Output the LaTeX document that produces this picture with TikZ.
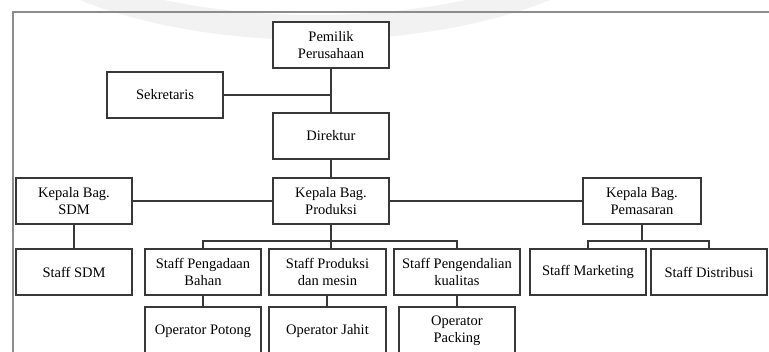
\documentclass[tikz,border=0pt]{standalone}
\usepackage{fontspec}
\setmainfont{Liberation Serif}
\begin{document}
\begin{tikzpicture}[x=1pt,y=-1pt,
  orgbox/.style={draw=black!78, line width=1.1pt, fill=white, minimum width=116pt, minimum height=46pt,
    inner sep=1pt, align=center, font=\fontsize{14.5}{17.5}\selectfont, text=black},
  link/.style={draw=black!78, line width=1.1pt}]
\useasboundingbox (0,0) rectangle (769,352);
\begin{scope}
\clip (0,0) rectangle (769,352);
% faint watermark ring
\fill[black!5, even odd rule] (315,-110) ellipse [x radius=346, y radius=150]
  (315,-135) ellipse [x radius=346, y radius=150];
% frame
\draw[black!45, line width=1.4pt] (13,360) -- (13,12) -- (775,12);
% nodes
\node[orgbox] (pemilik) at (331,45) {Pemilik\\Perusahaan};
\node[orgbox] (sekre) at (165,95) {Sekretaris};
\node[orgbox] (direktur) at (331,136) {Direktur};
\node[orgbox] (sdm) at (74,201) {Kepala Bag.\\SDM};
\node[orgbox] (prod) at (331,201) {Kepala Bag.\\Produksi};
\node[orgbox, minimum width=118pt] (pemasaran) at (642,201) {Kepala Bag.\\Pemasaran};
\node[orgbox] (staffsdm) at (74,272) {Staff SDM};
\node[orgbox] (pengadaan) at (203,272) {Staff Pengadaan\\Bahan};
\node[orgbox, minimum width=117pt] (prodmesin) at (327.5,272) {Staff Produksi\\dan mesin};
\node[orgbox, minimum width=126pt] (pengendalian) at (457,272) {Staff Pengendalian\\kualitas};
\node[orgbox] (marketing) at (588,272) {Staff Marketing};
\node[orgbox] (distribusi) at (709,272) {Staff Distribusi};
\node[orgbox, minimum height=48pt] (potong) at (203,331) {Operator Potong};
\node[orgbox, minimum width=117pt, minimum height=48pt] (jahit) at (327.5,331) {Operator Jahit};
\node[orgbox, minimum height=48pt] (packing) at (457,331) {Operator\\Packing};
% connectors
\coordinate (sekj) at (331,95);
\coordinate (pbus) at (331,241);
\coordinate (mbus) at (642,241);
\coordinate (pmj) at (327,0);
\draw[link] (pemilik.south) -- (direktur.north);
\draw[link] (sekre.east) -- (sekj);
\draw[link] (direktur.south) -- (prod.north);
\draw[link] (sdm.east) -- (prod.west);
\draw[link] (prod.east) -- (pemasaran.west);
\draw[link] (sdm.south) -- (staffsdm.north);
\draw[link] (prod.south) -- (pbus);
\draw[link] (pbus) -- (pbus |- prodmesin.north);
\draw[link] (pengadaan.north) |- (pbus) -| (pengendalian.north);
\draw[link] (pemasaran.south) -- (mbus);
\draw[link] (marketing.north) |- (mbus) -| (distribusi.north);
\draw[link] (pengadaan.south) -- (potong.north);
\draw[link] (pmj |- prodmesin.south) -- (pmj |- jahit.north);
\draw[link] (pengendalian.south) -- (packing.north);
\end{scope}
\end{tikzpicture}
\end{document}
